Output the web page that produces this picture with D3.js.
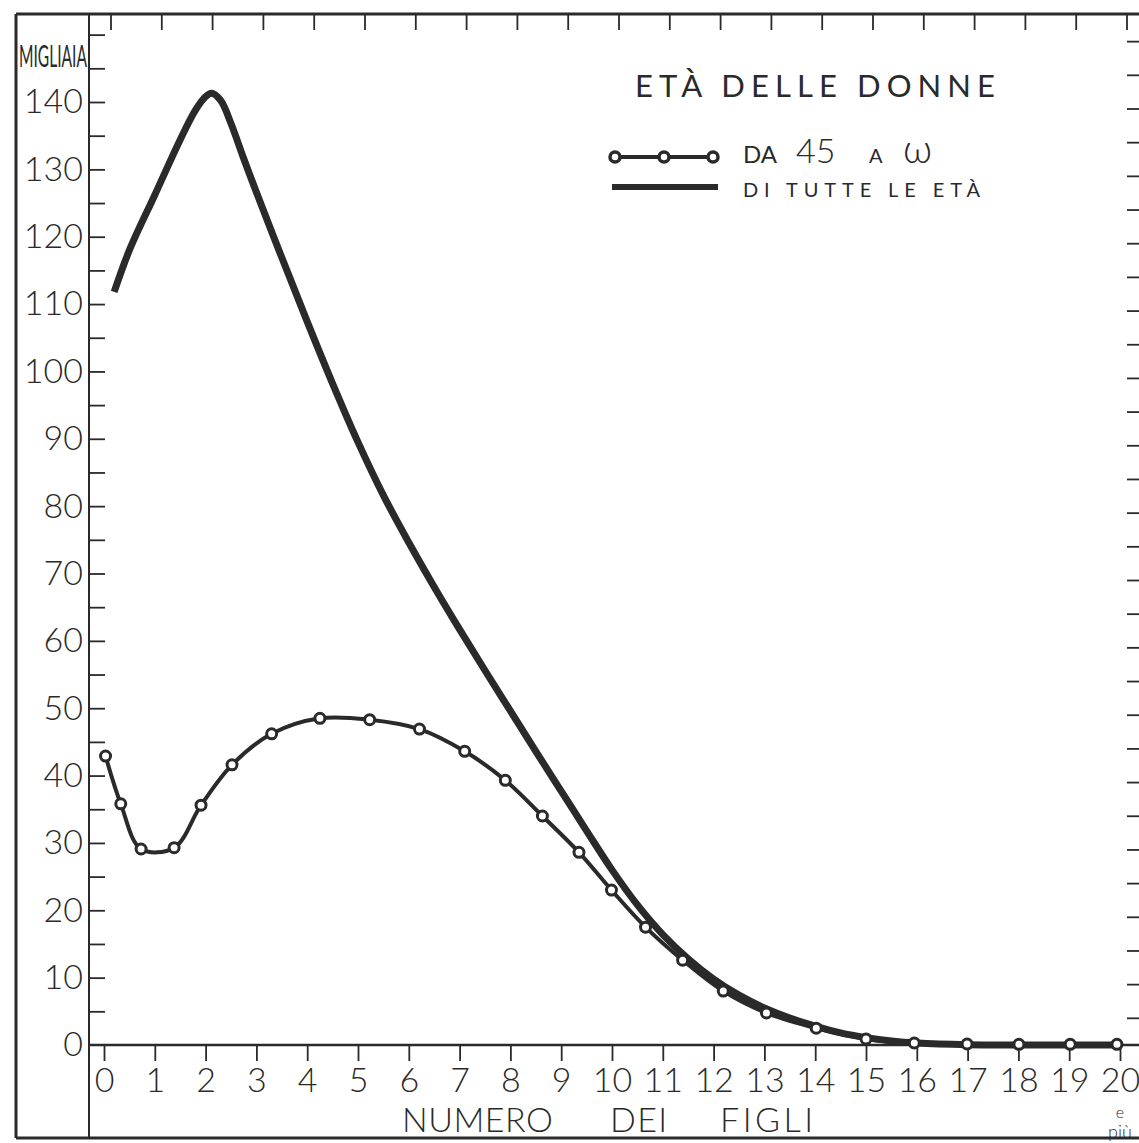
<!DOCTYPE html>
<html><head><meta charset="utf-8">
<script src="https://cdn.jsdelivr.net/npm/d3@7"></script>
<style>
html,body{margin:0;padding:0;background:#fff;}
svg{display:block;}
text{font-family:Lato,"DejaVu Sans",sans-serif;font-weight:300;fill:#2a2a2a;}
</style></head>
<body>
<svg id="c" width="1139" height="1143"></svg>
<script>
// ---- data ----
const xTicks = d3.range(0, 21);
const yLabels = d3.range(0, 141, 10);
const yMinor = d3.range(0, 151, 5);
// "da 45 a ω" (open circles)
const olderX = [0.03, 0.33, 0.73, 1.38, 1.91, 2.52, 3.30, 4.25, 5.23, 6.21, 7.10, 7.90, 8.63, 9.35, 9.99, 10.66, 11.39, 12.19, 13.04, 14.02, 15.00, 15.95, 16.99, 18.01, 19.02, 19.94];
const olderY = [42.9, 35.8, 29.1, 29.3, 35.6, 41.6, 46.2, 48.5, 48.3, 46.9, 43.6, 39.3, 34.0, 28.6, 23.0, 17.5, 12.6, 8.0, 4.75, 2.5, 0.9, 0.3, 0.15, 0.1, 0.1, 0.1];
// "di tutte le età" (thick line)
const allX = [0.20, 0.50, 1.00, 1.50, 1.80, 2.00, 2.12, 2.30, 2.50, 2.75, 3.00, 3.50, 4.00, 4.50, 5.00, 5.50, 6.00, 6.50, 7.00, 7.50, 8.00, 8.50, 9.00, 9.50, 10.00, 10.50, 11.00, 11.50, 12.00, 12.50, 13.00, 13.50, 14.00, 14.50, 15.00, 15.50, 16.00, 17.00, 18.00, 19.00, 19.94];
const allY = [111.8, 118.0, 126.2, 134.4, 138.8, 140.8, 141.3, 140.2, 136.8, 131.6, 126.6, 116.9, 107.4, 98.2, 89.5, 81.6, 74.6, 68.0, 61.7, 55.6, 49.6, 43.6, 37.7, 31.8, 26.0, 20.8, 16.4, 12.8, 9.8, 7.4, 5.5, 4.0, 2.8, 1.8, 1.1, 0.6, 0.3, 0.05, 0.0, 0.0, 0.0];

const olderPts = olderX.map((v, i) => [v, olderY[i]]);
const allPts = allX.map((v, i) => [v, allY[i]]);

// ---- scales ----
const x = d3.scaleLinear().domain([0, 20]).range([104, 1120]);
const y = d3.scaleLinear().domain([0, 140]).range([1045, 102]);

const svg = d3.select("#c");
const ink = "#2a2a2a";

// frame
const frame = svg.append("g").attr("stroke", ink).attr("fill", "none");
frame.append("line").attr("x1", 16).attr("x2", 1139).attr("y1", 14).attr("y2", 14).attr("stroke-width", 3);
frame.append("line").attr("x1", 16).attr("x2", 16).attr("y1", 14).attr("y2", 1138).attr("stroke-width", 3);
frame.append("line").attr("x1", 16).attr("x2", 1139).attr("y1", 1138).attr("y2", 1138).attr("stroke-width", 3);
frame.append("line").attr("x1", 89).attr("x2", 89).attr("y1", 14).attr("y2", 1138).attr("stroke-width", 2);
// x axis line
frame.append("line").attr("x1", 89).attr("x2", 1139).attr("y1", y(0)).attr("y2", y(0)).attr("stroke-width", 2.5);

// bottom axis ticks + labels
const xa = svg.append("g").attr("transform", `translate(0,${y(0)})`)
  .call(d3.axisBottom(x).tickValues(xTicks).tickSize(16).tickPadding(7).tickFormat(d3.format("d")));
xa.select(".domain").remove();
xa.selectAll("line").attr("stroke", ink).attr("stroke-width", 1.8);
xa.selectAll("text").style("font-size", "34px").style("font-family", "Lato, sans-serif").style("font-weight", 300).attr("fill", ink);

// top ticks
svg.append("g").selectAll("line").data(xTicks).join("line")
  .attr("x1", d => x(d) + 7).attr("x2", d => x(d) + 7).attr("y1", 14).attr("y2", 30)
  .attr("stroke", ink).attr("stroke-width", 1.8);

// left ticks (every 5)
const ya = svg.append("g").attr("transform", "translate(89,0)")
  .call(d3.axisRight(y).tickValues(yMinor).tickSize(16).tickFormat(""));
ya.select(".domain").remove();
ya.selectAll("line").attr("stroke", ink).attr("stroke-width", 1.8);
ya.selectAll(".tick").filter(d => d === 0).remove();

// left labels
const yl = svg.append("g").attr("transform", "translate(89,0)")
  .call(d3.axisLeft(y).tickValues(yLabels).tickSize(0).tickPadding(6).tickFormat(d3.format("d")));
yl.select(".domain").remove();
yl.selectAll("text").style("font-size", "34px").style("font-family", "Lato, sans-serif").style("font-weight", 300).attr("fill", ink);

// right ticks
svg.append("g").selectAll("line").data(yMinor.filter(d => d > 0)).join("line")
  .attr("x1", 1127).attr("x2", 1139).attr("y1", d => y(d) + 7).attr("y2", d => y(d) + 7)
  .attr("stroke", ink).attr("stroke-width", 1.8);

// MIGLIAIA
svg.append("text").attr("x", 19).attr("y", 67).attr("textLength", 68).attr("lengthAdjust", "spacingAndGlyphs")
  .style("font-size", "30px").style("font-weight", 400).text("MIGLIAIA");

// ---- series ----
const line = d3.line().x(d => x(d[0])).y(d => y(d[1])).curve(d3.curveCatmullRom.alpha(0.5));
svg.append("path").attr("d", line(allPts)).attr("fill", "none").attr("stroke", ink)
  .attr("stroke-width", 7).attr("stroke-linecap", "butt").attr("stroke-linejoin", "round");
svg.append("path").attr("d", line(olderPts)).attr("fill", "none").attr("stroke", ink)
  .attr("stroke-width", 4).attr("stroke-linejoin", "round");
svg.append("g").selectAll("circle").data(olderPts).join("circle")
  .attr("cx", d => x(d[0])).attr("cy", d => y(d[1])).attr("r", 5)
  .attr("fill", "#fff").attr("stroke", ink).attr("stroke-width", 3);

// ---- title & legend ----
svg.append("text").attr("x", 635).attr("y", 97).attr("textLength", 360).attr("lengthAdjust", "spacing")
  .style("font-size", "31px").style("font-weight", 400).text("ETÀ DELLE  DONNE");

const lg = svg.append("g");
lg.append("line").attr("x1", 615).attr("x2", 713).attr("y1", 157).attr("y2", 157).attr("stroke", ink).attr("stroke-width", 4);
lg.selectAll("circle").data([615, 664, 713]).join("circle")
  .attr("cx", d => d).attr("cy", 157).attr("r", 5).attr("fill", "#fff").attr("stroke", ink).attr("stroke-width", 3.5);
lg.append("line").attr("x1", 612).attr("x2", 718).attr("y1", 187).attr("y2", 187).attr("stroke", ink).attr("stroke-width", 6);

lg.append("text").attr("x", 743).attr("y", 163).style("font-size", "24px").style("font-weight", 400).text("DA");
lg.append("text").attr("x", 796).attr("y", 163).style("font-size", "34px").text("45");
lg.append("text").attr("x", 869).attr("y", 163).style("font-size", "20px").style("font-weight", 400).text("A");
lg.append("text").attr("x", 903).attr("y", 163).style("font-size", "40px").text("ω");
lg.append("text").attr("x", 743).attr("y", 197).attr("textLength", 237).attr("lengthAdjust", "spacing")
  .style("font-size", "20px").style("font-weight", 400).text("DI TUTTE LE ETÀ");

// x-axis title
const xt = svg.append("g").style("font-size", "34px");
xt.append("text").attr("x", 402).attr("y", 1132).attr("textLength", 151).attr("lengthAdjust", "spacing").text("NUMERO");
xt.append("text").attr("x", 610).attr("y", 1132).attr("textLength", 57).attr("lengthAdjust", "spacing").text("DEI");
xt.append("text").attr("x", 720).attr("y", 1132).attr("textLength", 93).attr("lengthAdjust", "spacing").text("FIGLI");

svg.append("text").attr("x", x(20)).attr("y", 1118).attr("text-anchor", "middle").style("font-size", "16px").text("e");
svg.append("text").attr("x", x(20)).attr("y", 1138).attr("text-anchor", "middle").style("font-size", "18px").text("più");
</script>
</body></html>
